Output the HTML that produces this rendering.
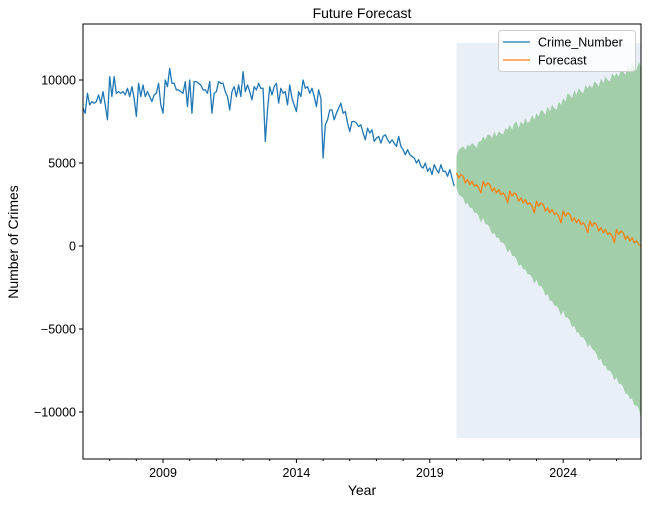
<!DOCTYPE html>
<html><head><meta charset="utf-8"><style>
body{margin:0;background:#fff;}
svg{display:block;font-family:"Liberation Sans","DejaVu Sans",sans-serif;}
</style></head><body>
<svg id="chart" width="648" height="505" viewBox="0 0 648 505" xmlns="http://www.w3.org/2000/svg">
<text x="362" y="18" font-size="14" text-anchor="middle">Future Forecast</text>
<g id="plot"></g>
<text x="362" y="495" font-size="14" text-anchor="middle">Year</text>
<text transform="translate(18,242) rotate(-90)" font-size="14" text-anchor="middle">Number of Crimes</text>
</svg>
<script>
const history = [
8300,8000,9200,8500,8700,8600,8700,9100,8600,9300,8500,7600,
10200,9000,10200,9200,9300,9200,9300,9100,9500,9000,9600,8900,
7800,9800,9000,9700,9000,9300,9000,8700,9100,9200,9800,8500,
8000,10000,9600,10700,9800,9800,9400,9400,9300,9200,9900,8400,
10000,8000,9900,9900,9800,9700,9400,9400,9200,9900,8000,9200,
9300,9900,9800,9800,9300,9000,8200,9300,9600,9000,9700,9000,
10500,9300,9700,9300,8800,9600,9400,9800,9500,9500,6300,8200,
9600,9100,9600,9800,8600,9500,9200,9300,8500,9700,8900,8500,
8100,9300,9000,10000,9500,9600,9200,9500,9000,8400,9400,8900,
5300,7300,7600,8200,8200,7600,8000,8300,8600,8000,8100,7400,
6900,7500,7500,7400,7200,7300,6800,6400,7100,6800,7000,6300,
6500,6600,6200,6600,6700,6400,6200,6400,6200,6000,6600,6000,
5800,5500,5800,5500,5400,5300,5000,5200,4800,4700,5000,4500,
4700,4300,4900,4600,4400,4900,4500,4500,4200,4600,4100,3600];
const forecast = [
4400,4100,4300,4200,3800,4000,3700,3900,3600,3700,3500,3200,
3900,3600,3800,3700,3300,3500,3200,3400,3100,3200,3000,2600,
3300,3000,3200,3100,2700,2900,2600,2800,2500,2600,2400,2000,
2700,2400,2600,2500,2100,2300,2000,2200,1900,2000,1800,1400,
2100,1800,2000,1900,1500,1700,1400,1600,1300,1400,1200,800,
1500,1200,1400,1300,900,1100,800,1000,700,800,600,200,
1000,700,900,800,400,600,300,500,200,300,100,0];
const upper = [
5400,5800,5900,6000,5800,6100,6000,6200,6100,5900,6300,6300,
6600,6400,6700,6700,6500,6900,6600,6900,6800,6700,7100,7000,
7300,7000,7400,7500,7100,7500,7300,7700,7400,7500,7900,7600,
8000,7800,8200,8100,7900,8400,8100,8500,8300,8200,8700,8500,
8900,8700,9200,9100,8900,9400,9100,9500,9300,9200,9700,9500,
9700,9500,9900,9800,9600,10100,9800,10200,10000,9900,10400,10200,
10400,10200,10600,10500,10300,10900,10600,11000,10800,10600,11100,10700];
const lower = [
3500,3100,3000,2900,2500,2600,2300,2300,2000,2000,1800,1400,
1700,1300,1300,1100,700,800,500,500,200,200,0,-400,
-200,-600,-600,-800,-1200,-1100,-1400,-1400,-1700,-1700,-1900,-2300,
-2000,-2400,-2400,-2600,-3000,-2900,-3300,-3300,-3600,-3600,-3800,-4200,
-3900,-4300,-4300,-4500,-4900,-4800,-5200,-5200,-5500,-5500,-5700,-6100,
-5900,-6200,-6300,-6500,-6900,-6800,-7200,-7200,-7500,-7500,-7700,-8100,
-7900,-8300,-8300,-8500,-8900,-8900,-9200,-9200,-9600,-9600,-9800,-10400];
const shadeRange = [2020.0, 2026.917, -11570, 12230];
const yTicks = [-10000,-5000,0,5000,10000];
const xTicks = [2009,2014,2019,2024];
const histStart = 2006.0, fcStart = 2020.0;

const L=83,R=641,T=24,B=459;
const t0=2006.0,t1=2026.917,v0=-12831,v1=13373;
const X=t=>L+(t-t0)/(t1-t0)*(R-L);
const Y=v=>B-(v-v0)/(v1-v0)*(B-T);
const NS='http://www.w3.org/2000/svg';
const g=document.getElementById('plot');
function mk(tag,attrs){const e=document.createElementNS(NS,tag);for(const k in attrs)e.setAttribute(k,attrs[k]);g.appendChild(e);return e;}

const cp=mk('clipPath',{id:'clip'});g.removeChild(cp);
const cr=document.createElementNS(NS,'rect');cr.setAttribute('x',L);cr.setAttribute('y',T);cr.setAttribute('width',R-L);cr.setAttribute('height',B-T);cp.appendChild(cr);
const defs=document.createElementNS(NS,'defs');defs.appendChild(cp);g.appendChild(defs);

const shade=mk('rect',{x:X(shadeRange[0]),y:Y(shadeRange[3]),width:X(shadeRange[1])-X(shadeRange[0]),height:Y(shadeRange[2])-Y(shadeRange[3]),fill:'#e8eff7'});



let d='';
upper.forEach((v,i)=>{d+=(i?'L':'M')+X(fcStart+i/12).toFixed(2)+','+Y(v).toFixed(2);});
for(let i=lower.length-1;i>=0;i--){d+='L'+X(fcStart+i/12).toFixed(2)+','+Y(lower[i]).toFixed(2);}
const band=mk('path',{d:d+'Z',fill:'#a2cea9','clip-path':'url(#clip)'});



const hp=mk('polyline',{points:history.map((v,i)=>X(histStart+i/12).toFixed(2)+','+Y(v).toFixed(2)).join(' '),fill:'none',stroke:'#1f77b4','stroke-width':1.3,'stroke-linejoin':'round'});


const fp=mk('polyline',{points:forecast.map((v,i)=>X(fcStart+i/12).toFixed(2)+','+Y(v).toFixed(2)).join(' '),fill:'none',stroke:'#ff7f0e','stroke-width':1.3,'stroke-linejoin':'round','clip-path':'url(#clip)'});



const frame=mk('rect',{x:L,y:T,width:R-L,height:B-T,fill:'none',stroke:'#000','stroke-width':1});



yTicks.forEach(v=>{
  const y=Y(v);
  const tk=mk('line',{x1:L-4,x2:L,y1:y,y2:y,stroke:'#000'});
  
  
  const tx=mk('text',{x:L-7,y:y+4.5,'font-size':12.5,'text-anchor':'end'});
  tx.textContent=(v<0?'\u2212':'')+Math.abs(v);
  
  
});
for(let yr=2007;yr<=2026;yr++){
  const x=X(yr);const major=xTicks.includes(yr);
  const tk=mk('line',{x1:x,x2:x,y1:B,y2:B+(major?4:2),stroke:'#000'});
  
  
}
xTicks.forEach(yr=>{
  const tx=mk('text',{x:X(yr),y:B+18,'font-size':12.5,'text-anchor':'middle'});
  tx.textContent=yr;
  
  
});

const lg=mk('rect',{x:498.5,y:30.5,width:137,height:41,rx:3,fill:'#fff','fill-opacity':0.8,stroke:'#ccc'});


[['Crime_Number','#1f77b4',42],['Forecast','#ff7f0e',60]].forEach(([name,c,y])=>{
  const ln=mk('line',{x1:503,x2:530,y1:y,y2:y,stroke:c,'stroke-width':1.3});
  
  
  const tx=mk('text',{x:538,y:y+4.5,'font-size':12.5});
  tx.textContent=name;
  
  
});
</script>
</body></html>
